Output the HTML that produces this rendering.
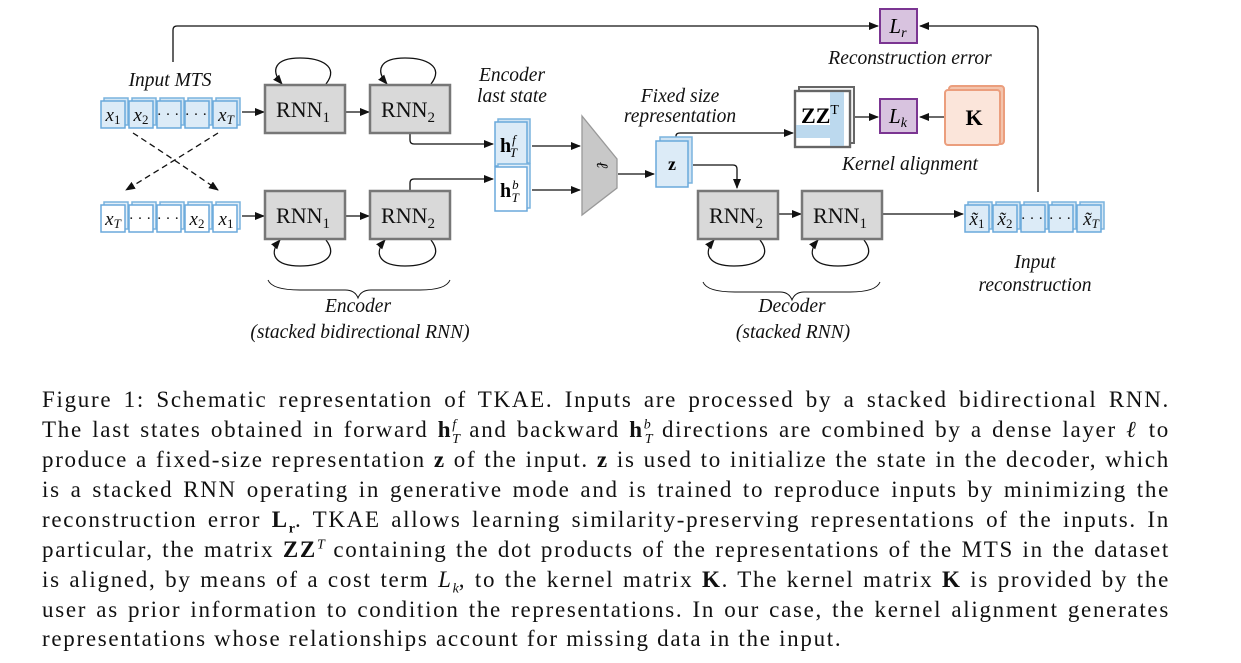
<!DOCTYPE html>
<html><head><meta charset="utf-8"><style>
html,body{margin:0;padding:0;background:#fff;width:1241px;height:663px;overflow:hidden}
.cap{position:absolute;left:42px;width:1128px;font-family:"Liberation Serif",serif;font-size:23px;letter-spacing:1.7px;color:#111;text-align:justify;text-align-last:justify;white-space:nowrap;line-height:24px;height:24px}
.cap.last{text-align-last:left}
.cap sup,.cap sub{line-height:0;font-size:14px;letter-spacing:0}
b{font-weight:bold}
svg text{font-family:"Liberation Serif",serif}
</style></head><body>
<svg width="1241" height="380" style="position:absolute;left:0;top:0">
<defs>
<marker id="a" markerWidth="10" markerHeight="8" refX="9" refY="4" orient="auto" markerUnits="userSpaceOnUse"><path d="M0,0 L10,4 L0,8 z" fill="#111"/></marker>
<g id="cell"><rect x="3" y="-3" width="24" height="27" fill="#d3e6f4" stroke="#7ab3de" stroke-width="1.5"/><rect x="0" y="0" width="24" height="27" fill="#dcebf7" stroke="#6aa9db" stroke-width="1.5"/></g>
<g id="cellw"><rect x="3" y="-3" width="24" height="27" fill="#e3eff9" stroke="#7ab3de" stroke-width="1.5"/><rect x="0" y="0" width="24" height="27" fill="#fff" stroke="#6aa9db" stroke-width="1.5"/></g>
</defs>
<g stroke="#111" stroke-width="1.3" fill="none">
<path d="M173,62 V30 Q173,26 177,26 H878" marker-end="url(#a)"/>
<path d="M1038,192 V30 Q1038,26 1034,26 H920" marker-end="url(#a)"/>
<path d="M242,112 H264" marker-end="url(#a)"/>
<path d="M346,112 H369" marker-end="url(#a)"/>
<path d="M242,216 H264" marker-end="url(#a)"/>
<path d="M346,216 H369" marker-end="url(#a)"/>
<path d="M410,133 V140 Q410,144 414,144 H493" marker-end="url(#a)"/>
<path d="M410,190 V183 Q410,179 414,179 H493" marker-end="url(#a)"/>
<path d="M532,146 H580" marker-end="url(#a)"/>
<path d="M532,190 H580" marker-end="url(#a)"/>
<path d="M618,174 H654" marker-end="url(#a)"/>
<path d="M676,140 V136 Q676,133 680,133 H793" marker-end="url(#a)"/>
<path d="M693,165 H733 Q737,165 737,169 V188" marker-end="url(#a)"/>
<path d="M854,117 H878" marker-end="url(#a)"/>
<path d="M944,117 H920" marker-end="url(#a)"/>
<path d="M779,214 H801" marker-end="url(#a)"/>
<path d="M883,214 H963" marker-end="url(#a)"/>
<path d="M133,133 Q175,160 218,190" stroke-dasharray="6,4" marker-end="url(#a)"/>
<path d="M218,133 Q175,160 126,190" stroke-dasharray="6,4" marker-end="url(#a)"/>
<path d="M326,84 C340,66 320,58 300,58 C275,58 270,70 282,84" marker-end="url(#a)"/>
<path d="M431,84 C445,66 425,58 405,58 C380,58 375,70 387,84" marker-end="url(#a)"/>
<path d="M326,240 C340,258 320,266 300,266 C275,266 268,254 280,240" marker-end="url(#a)"/>
<path d="M431,240 C445,258 425,266 405,266 C380,266 373,254 385,240" marker-end="url(#a)"/>
<path d="M760,240 C774,258 754,266 734,266 C709,266 702,254 714,240" marker-end="url(#a)"/>
<path d="M864,240 C878,258 858,266 838,266 C813,266 806,254 818,240" marker-end="url(#a)"/>
<path d="M268,280 Q272,290 300,290 H345 Q355,290 358,298 Q361,290 371,290 H420 Q446,290 450,280" stroke-width="1"/>
<path d="M703,282 Q707,292 735,292 H780 Q789,292 792,300 Q795,292 804,292 H850 Q876,292 880,282" stroke-width="1"/>
</g>
<g transform="translate(101,101)"><use href="#cell"/><use href="#cell" x="28"/><use href="#cell" x="56"/><use href="#cell" x="84"/><use href="#cell" x="112"/></g>
<g transform="translate(101,205)"><use href="#cellw"/><use href="#cellw" x="28"/><use href="#cellw" x="56"/><use href="#cellw" x="84"/><use href="#cellw" x="112"/></g>
<g transform="translate(965,205)"><use href="#cell"/><use href="#cell" x="28"/><use href="#cell" x="56"/><use href="#cell" x="84"/><use href="#cell" x="112"/></g>
<g font-size="19" font-style="italic" fill="#111" text-anchor="middle">
<text x="113" y="121">x<tspan font-size="13" dy="3" font-style="normal">1</tspan></text>
<text x="141" y="121">x<tspan font-size="13" dy="3" font-style="normal">2</tspan></text>
<text x="168" y="119" font-style="normal" font-size="15">· · ·</text><text x="196" y="119" font-style="normal" font-size="15">· · ·</text>
<text x="226" y="121">x<tspan font-size="13" dy="3">T</tspan></text>
<text x="113" y="225">x<tspan font-size="13" dy="3">T</tspan></text>
<text x="140" y="223" font-style="normal" font-size="15">· · ·</text><text x="168" y="223" font-style="normal" font-size="15">· · ·</text>
<text x="197" y="225">x<tspan font-size="13" dy="3" font-style="normal">2</tspan></text>
<text x="226" y="225">x<tspan font-size="13" dy="3" font-style="normal">1</tspan></text>
<text x="977" y="225">x̃<tspan font-size="13" dy="3" font-style="normal">1</tspan></text>
<text x="1005" y="225">x̃<tspan font-size="13" dy="3" font-style="normal">2</tspan></text>
<text x="1032" y="223" font-style="normal" font-size="15">· · ·</text><text x="1060" y="223" font-style="normal" font-size="15">· · ·</text>
<text x="1091" y="225">x̃<tspan font-size="13" dy="3">T</tspan></text>
</g>
<g fill="#d9d9d9" stroke="#777" stroke-width="2.5">
<rect x="265" y="85" width="80" height="48"/><rect x="370" y="85" width="80" height="48"/>
<rect x="265" y="191" width="80" height="48"/><rect x="370" y="191" width="80" height="48"/>
<rect x="698" y="191" width="80" height="48"/><rect x="802" y="191" width="80" height="48"/>
</g>
<g font-size="22" fill="#111" text-anchor="middle">
<text x="303" y="117">RNN<tspan font-size="15" dy="5">1</tspan></text>
<text x="408" y="117">RNN<tspan font-size="15" dy="5">2</tspan></text>
<text x="303" y="223">RNN<tspan font-size="15" dy="5">1</tspan></text>
<text x="408" y="223">RNN<tspan font-size="15" dy="5">2</tspan></text>
<text x="736" y="223">RNN<tspan font-size="15" dy="5">2</tspan></text>
<text x="840" y="223">RNN<tspan font-size="15" dy="5">1</tspan></text>
</g>
<rect x="498" y="119" width="32" height="44" fill="#cfe3f3" stroke="#7ab3de" stroke-width="1.5"/>
<rect x="495" y="122" width="32" height="44" fill="#dcebf7" stroke="#6aa9db" stroke-width="1.5"/>
<rect x="498" y="164" width="32" height="44" fill="#e3eff9" stroke="#7ab3de" stroke-width="1.5"/>
<rect x="495" y="167" width="32" height="44" fill="#fff" stroke="#6aa9db" stroke-width="1.5"/>
<text x="500" y="152" font-size="20" font-weight="bold">h<tspan font-size="13" font-weight="normal" font-style="italic" dx="1" dy="-8">f</tspan><tspan font-size="13" font-weight="normal" font-style="italic" dx="-6" dy="13">T</tspan></text>
<text x="500" y="197" font-size="20" font-weight="bold">h<tspan font-size="13" font-weight="normal" font-style="italic" dx="1" dy="-8">b</tspan><tspan font-size="13" font-weight="normal" font-style="italic" dx="-7" dy="13">T</tspan></text>
<path d="M582,116 L617,159 L617,188 L582,215 z" fill="#c8c8c8" stroke="#999" stroke-width="1.3"/>
<text x="600" y="168" font-size="16" font-style="italic" transform="rotate(90 600 165)" text-anchor="middle">ℓ</text>
<rect x="660" y="137" width="32" height="46" fill="#cfe3f3" stroke="#7ab3de" stroke-width="1.5"/>
<rect x="656" y="141" width="32" height="46" fill="#dcebf7" stroke="#6aa9db" stroke-width="1.5"/>
<text x="672" y="170" font-size="18" font-weight="bold" text-anchor="middle">z</text>
<rect x="799" y="87" width="55" height="56" fill="#f4f4f4" stroke="#666" stroke-width="2"/>
<rect x="795" y="91" width="55" height="56" fill="#fff" stroke="#666" stroke-width="2.2"/>
<rect x="830" y="91" width="14" height="56" fill="#bcd9ee"/>
<rect x="795" y="125" width="49" height="13" fill="#bcd9ee"/>
<rect x="795" y="91" width="55" height="56" fill="none" stroke="#666" stroke-width="2.2"/>
<text x="820" y="123" font-size="22" font-weight="bold" text-anchor="middle">ZZ<tspan font-size="14" font-weight="normal" dy="-9">T</tspan></text>
<rect x="880" y="9" width="37" height="34" fill="#d8c3df" stroke="#7b3592" stroke-width="2"/>
<text x="898" y="33" font-size="21" font-style="italic" text-anchor="middle">L<tspan font-size="14" dy="4">r</tspan></text>
<rect x="880" y="99" width="37" height="34" fill="#d8c3df" stroke="#7b3592" stroke-width="2"/>
<text x="898" y="123" font-size="21" font-style="italic" text-anchor="middle">L<tspan font-size="14" dy="4">k</tspan></text>
<rect x="949" y="86" width="55" height="58" rx="3" fill="#f3c4ad" stroke="#eb9e7d" stroke-width="2"/>
<rect x="945" y="90" width="55" height="55" rx="3" fill="#fbe5da" stroke="#eb9e7d" stroke-width="2"/>
<text x="974" y="125" font-size="22" font-weight="bold" text-anchor="middle">K</text>
<g font-size="19.5" font-style="italic" fill="#111" text-anchor="middle">
<text x="170" y="86">Input MTS</text>
<text x="512" y="81">Encoder</text><text x="512" y="102">last state</text>
<text x="680" y="102">Fixed size</text><text x="680" y="122">representation</text>
<text x="910" y="64">Reconstruction error</text>
<text x="910" y="170">Kernel alignment</text>
<text x="1035" y="268">Input</text><text x="1035" y="291">reconstruction</text>
<text x="358" y="312">Encoder</text><text x="360" y="338">(stacked bidirectional RNN)</text>
<text x="792" y="312">Decoder</text><text x="793" y="338">(stacked RNN)</text>
</g>
</svg>
<div class="cap" style="top:388px">Figure 1: Schematic representation of TKAE. Inputs are processed by a stacked bidirectional RNN.</div>
<div class="cap" style="top:418px">The last states obtained in forward <b>h</b><sup><i>f</i></sup><sub style="margin-left:-4px"><i>T</i></sub> and backward <b>h</b><sup><i>b</i></sup><sub style="margin-left:-6px"><i>T</i></sub> directions are combined by a dense layer <i>ℓ</i> to</div>
<div class="cap" style="top:448px">produce a fixed-size representation <b>z</b> of the input. <b>z</b> is used to initialize the state in the decoder, which</div>
<div class="cap" style="top:478px">is a stacked RNN operating in generative mode and is trained to reproduce inputs by minimizing the</div>
<div class="cap" style="top:508px">reconstruction error <b>L<sub>r</sub></b>. TKAE allows learning similarity-preserving representations of the inputs. In</div>
<div class="cap" style="top:538px">particular, the matrix <b>ZZ</b><sup><i>T</i></sup> containing the dot products of the representations of the MTS in the dataset</div>
<div class="cap" style="top:568px">is aligned, by means of a cost term <i>L<sub>k</sub></i>, to the kernel matrix <b>K</b>. The kernel matrix <b>K</b> is provided by the</div>
<div class="cap" style="top:598px">user as prior information to condition the representations. In our case, the kernel alignment generates</div>
<div class="cap last" style="top:627px">representations whose relationships account for missing data in the input.</div>
</body></html>
